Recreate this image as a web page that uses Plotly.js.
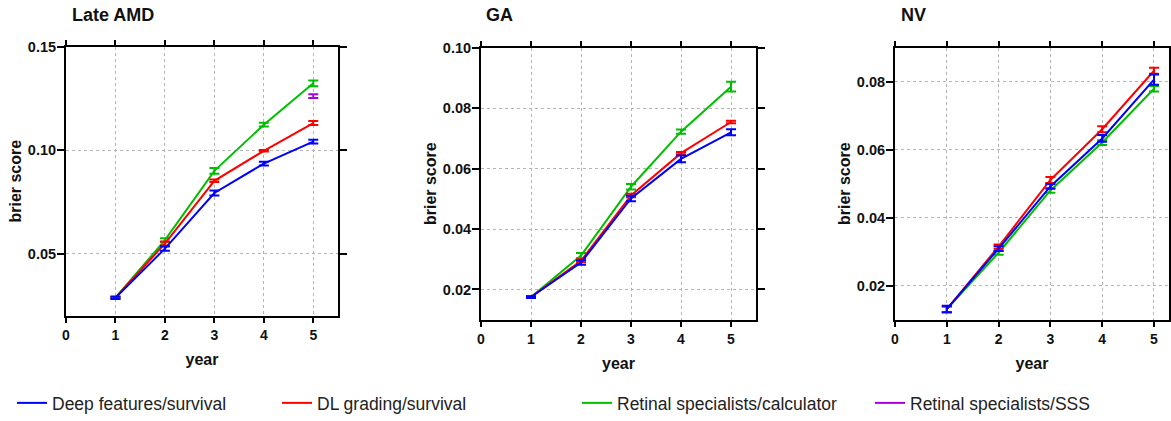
<!DOCTYPE html>
<html>
<head>
<meta charset="utf-8">
<script src="https://cdn.plot.ly/plotly-3.0.1.min.js"></script>
<style>html,body{margin:0;padding:0;background:#fff;}#chart{width:1171px;height:421px;}</style>
</head>
<body>
<div id="chart"></div>
<script>
// ---- data ----
const years = [1, 2, 3, 4, 5];
const panelTitles = ["Late AMD", "GA", "NV"];
const seriesNames = ["Deep features/survival", "DL grading/survival", "Retinal specialists/calculator", "Retinal specialists/SSS"];

// Late AMD
const amdDeep = [0.0287, 0.0524, 0.0793, 0.0935, 0.1041];
const amdDeepErr = [0.0006, 0.0010, 0.0012, 0.0009, 0.0009];
const amdDL = [0.0287, 0.0549, 0.0852, 0.0997, 0.1131];
const amdDLErr = [0.0004, 0.0010, 0.0006, 0.0004, 0.0010];
const amdCalc = [0.0287, 0.0565, 0.0900, 0.1123, 0.1323];
const amdCalcErr = [0.0004, 0.0009, 0.0014, 0.0009, 0.0014];
const amdSSS = [null, null, null, null, 0.1261];
const amdSSSErr = [0, 0, 0, 0, 0.0009];

// GA
const gaDeep = [0.0175, 0.0289, 0.0501, 0.0632, 0.0720];
const gaDeepErr = [0.0003, 0.0007, 0.0009, 0.0011, 0.0010];
const gaDL = [0.0175, 0.0295, 0.0511, 0.0651, 0.0754];
const gaDLErr = [0.0003, 0.0005, 0.0006, 0.0004, 0.0004];
const gaCalc = [0.0175, 0.0312, 0.0540, 0.0722, 0.0871];
const gaCalcErr = [0.0003, 0.0009, 0.0009, 0.0007, 0.0016];

// NV
const nvDeep = [0.0131, 0.0309, 0.0492, 0.0633, 0.0806];
const nvDeepErr = [0.0010, 0.0007, 0.0007, 0.0010, 0.0015];
const nvDL = [0.0131, 0.0315, 0.0511, 0.0660, 0.0832];
const nvDLErr = [0.0008, 0.0006, 0.0009, 0.0009, 0.0009];
const nvCalc = [0.0131, 0.0297, 0.0480, 0.0621, 0.0779];
const nvCalcErr = [0.0008, 0.0006, 0.0007, 0.0007, 0.0008];

const yTicks1 = [0.05, 0.10, 0.15];
const yTicks2 = [0.02, 0.04, 0.06, 0.08, 0.10];
const yTicks3 = [0.02, 0.04, 0.06, 0.08];
const xTicks = [0, 1, 2, 3, 4, 5];

// ---- styling ----
const colors = ["#0000ff", "#ff0000", "#00bf00", "#a800e0"];
const legendKeys = ["legend", "legend2", "legend3", "legend4"];
const FONT = "Liberation Sans, Arial, sans-serif";

function trace(x, y, err, idx, xa, ya, show) {
  return {
    x: x, y: y, type: "scatter", mode: "lines",
    name: seriesNames[idx],
    legend: legendKeys[idx],
    showlegend: show,
    line: {color: colors[idx], width: 2},
    error_y: {type: "data", array: err, visible: true, color: colors[idx], thickness: 2, width: 5},
    xaxis: xa, yaxis: ya,
    hoverinfo: "x+y"
  };
}

const data = [
  trace(years, amdCalc, amdCalcErr, 2, "x", "y", true),
  trace(years, amdDL, amdDLErr, 1, "x", "y", true),
  trace(years, amdDeep, amdDeepErr, 0, "x", "y", true),
  trace(years, amdSSS, amdSSSErr, 3, "x", "y", true),
  trace(years, gaCalc, gaCalcErr, 2, "x2", "y2", false),
  trace(years, gaDL, gaDLErr, 1, "x2", "y2", false),
  trace(years, gaDeep, gaDeepErr, 0, "x2", "y2", false),
  trace(years, nvCalc, nvCalcErr, 2, "x3", "y3", false),
  trace(years, nvDL, nvDLErr, 1, "x3", "y3", false),
  trace(years, nvDeep, nvDeepErr, 0, "x3", "y3", false)
];

const W = 1171, H = 421;
function px(v) { return v / W; }
function py(v) { return 1 - v / H; }

function xaxis(l, r, range, anchor) {
  return {
    domain: [px(l), px(r)], range: range, anchor: anchor,
    tickvals: xTicks, ticktext: xTicks.map(String),
    ticks: "outside", ticklen: 5, tickwidth: 2, tickcolor: "#000",
    showline: true, linewidth: 2, linecolor: "#000", mirror: "ticks",
    showgrid: true, gridcolor: "#b4b4b4", gridwidth: 1, griddash: "dot",
    zeroline: false,
    tickfont: {family: FONT, size: 14, color: "#111", weight: "bold"},
    title: {text: "year", font: {family: FONT, size: 16, color: "#111", weight: "bold"}, standoff: 12},
    fixedrange: true
  };
}
function yaxis(t, b, range, ticks, anchor) {
  return {
    domain: [py(b), py(t)], range: range, anchor: anchor,
    tickvals: ticks, ticktext: ticks.map(v => v.toFixed(2)),
    ticks: "outside", ticklen: 7, tickwidth: 2, tickcolor: "#000",
    ticklabelstandoff: -2,
    showline: true, linewidth: 2, linecolor: "#000", mirror: "ticks",
    showgrid: true, gridcolor: "#b4b4b4", gridwidth: 1, griddash: "dot",
    zeroline: false,
    tickfont: {family: FONT, size: 14.5, color: "#111", weight: "bold"},
    title: {text: "brier score", font: {family: FONT, size: 16, color: "#111", weight: "bold"}, standoff: 2},
    fixedrange: true
  };
}

function legendAt(x) {
  return {
    x: px(x), y: py(406), xanchor: "left", yanchor: "middle",
    orientation: "h", bgcolor: "rgba(0,0,0,0)", borderwidth: 0,
    font: {family: FONT, size: 17.5, color: "#222"},
    itemwidth: 30
  };
}

const layout = {
  width: W, height: H,
  margin: {l: 0, r: 0, t: 0, b: 0},
  paper_bgcolor: "#fff", plot_bgcolor: "#fff",
  xaxis: xaxis(66, 338, [0, 5.5], "y"),
  yaxis: yaxis(47, 318, [0.02, 0.15], yTicks1, "x"),
  xaxis2: xaxis(481, 756, [0, 5.5], "y2"),
  yaxis2: yaxis(48, 322, [0.01, 0.10], yTicks2, "x2"),
  xaxis3: xaxis(895, 1169, [0, 5.29], "y3"),
  yaxis3: yaxis(48, 322, [0.01, 0.09], yTicks3, "x3"),
  legend: legendAt(12),
  legend2: legendAt(277),
  legend3: legendAt(577),
  legend4: legendAt(870),
  annotations: [
    {text: panelTitles[0], x: px(70), y: py(15)},
    {text: panelTitles[1], x: px(484), y: py(15)},
    {text: panelTitles[2], x: px(899), y: py(15)}
  ].map(a => Object.assign(a, {
    xref: "paper", yref: "paper", xanchor: "left", yanchor: "middle", showarrow: false,
    font: {family: FONT, size: 18, color: "#111", weight: "bold"}
  })),
  showlegend: true
};

Plotly.newPlot("chart", data, layout, {displayModeBar: false, staticPlot: true});
</script>
</body>
</html>
